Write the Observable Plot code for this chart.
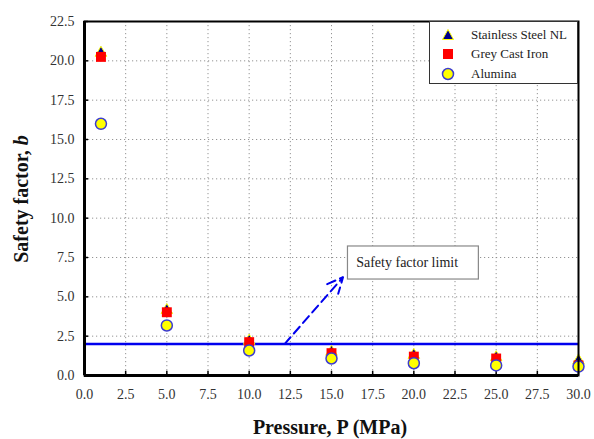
<!DOCTYPE html>
<html><head><meta charset="utf-8">
<script src="https://cdn.jsdelivr.net/npm/d3@7"></script>
<script src="https://cdn.jsdelivr.net/npm/@observablehq/plot@0.6"></script>
<style>
body{margin:0;background:#fff}
#chart{position:relative;width:594px;height:439px;font-family:"Liberation Serif","Times New Roman",Times,Tinos,"DejaVu Serif",serif}
#chart svg text{font-family:"Liberation Serif","Times New Roman",Times,Tinos,"DejaVu Serif",serif}
#legend{position:absolute;left:429px;top:21px;width:147px;height:61px;border:1.5px solid #333;background:#fff}
#legend .row{position:absolute;left:0;height:18px;display:flex;align-items:center;font-size:13px;color:#222}
#legend svg{width:24px;height:18px;margin-left:6px;margin-right:11px}
</style>
</head><body><div id="chart"><div id="legend"></div></div>
<script>
const pressure = [1, 5, 10, 15, 20, 25, 30];
const stainless = [20.5, 4.15, 2.2, 1.5, 1.3, 1.15, 0.95];
const greyIron = [20.25, 4.02, 2.12, 1.42, 1.2, 1.08, 0.64];
const alumina = [16.0, 3.18, 1.59, 1.08, 0.78, 0.64, 0.57];
const seriesNames = ["Stainless Steel NL", "Grey Cast Iron", "Alumina"];
const xTicks = [0, 2.5, 5, 7.5, 10, 12.5, 15, 17.5, 20, 22.5, 25, 27.5, 30];
const yTicks = [0, 2.5, 5, 7.5, 10, 12.5, 15, 17.5, 20, 22.5];
const limitValue = [2];
const arrowFrom = [12.15, 2.0];
const arrowTo = [15.7, 6.25];
const noteBox = [16.0, 23.95, 6.1, 8.2];
const noteText = "Safety factor limit";

const font = '"Liberation Serif", "Times New Roman", Times, Tinos, "DejaVu Serif", serif';
const rows = (ys) => pressure.map((p, i) => ({x: p, y: ys[i]}));
const blue = "#0000ee";

const plot = Plot.plot({
  width: 594, height: 439,
  marginLeft: 84, marginRight: 16, marginTop: 21, marginBottom: 64,
  style: {fontFamily: font, background: "white", overflow: "visible"},
  x: {domain: [0, 30]},
  y: {domain: [0, 22.5]},
  marks: [
    Plot.gridX(xTicks, {stroke: "#888", strokeOpacity: 0.9, strokeDasharray: "1.2,2.8"}),
    Plot.gridY(yTicks, {stroke: "#888", strokeOpacity: 0.9, strokeDasharray: "1.2,2.8"}),
    Plot.axisX(xTicks, {tickSize: 0, tickPadding: 14, tickFormat: d3.format(".1f"), fontSize: 14, fill: "#333", label: null}),
    Plot.axisY(yTicks, {tickSize: 0, tickPadding: 10, tickFormat: d3.format(".1f"), fontSize: 14, fill: "#333", label: null}),
    Plot.ruleX(xTicks, {y1: 0, y2: 0.27, stroke: "black", strokeWidth: 1.5}),
    Plot.ruleY(yTicks, {x1: 0, x2: 0.25, stroke: "black", strokeWidth: 1.5}),
    Plot.ruleY(limitValue, {stroke: blue, strokeWidth: 2.4}),
    Plot.arrow([{x1: arrowFrom[0], y1: arrowFrom[1], x2: arrowTo[0], y2: arrowTo[1]}],
      {x1: "x1", y1: "y1", x2: "x2", y2: "y2", stroke: blue, strokeWidth: 2, strokeDasharray: "9,5", headLength: 13, headAngle: 50}),
    Plot.rect([{x1: noteBox[0], x2: noteBox[1], y1: noteBox[2], y2: noteBox[3]}],
      {x1: "x1", x2: "x2", y1: "y1", y2: "y2", fill: "white", stroke: "#888", strokeWidth: 1.2}),
    Plot.text([noteText], {x: noteBox[0] + 0.5, y: (noteBox[2] + noteBox[3]) / 2, text: d => d, textAnchor: "start", fontSize: 14, fill: "#222"}),
    Plot.dot(rows(stainless), {x: "x", y: "y", symbol: "triangle", r: 4.3, fill: "#00008b", stroke: "yellow", strokeWidth: 1}),
    Plot.dot(rows(greyIron), {x: "x", y: "y", symbol: "square", r: 5.6, fill: "#ff0000", stroke: "none"}),
    Plot.dot(rows(alumina), {x: "x", y: "y", symbol: "circle", r: 5.5, fill: "yellow", stroke: "#3b3bd0", strokeWidth: 1.5}),
    Plot.frame({stroke: "black", strokeWidth: 2}),
    Plot.ruleX([0], {stroke: "black", strokeWidth: 3}),
    Plot.ruleY([0], {stroke: "black", strokeWidth: 3})
  ]
});

// axis titles
const ns = "http://www.w3.org/2000/svg";
const yt = document.createElementNS(ns, "text");
yt.setAttribute("transform", "translate(28,199) rotate(-90)");
yt.setAttribute("text-anchor", "middle");
yt.setAttribute("font-size", "20");
yt.setAttribute("font-weight", "bold");
yt.setAttribute("fill", "#111");
yt.appendChild(document.createTextNode("Safety factor, "));
const ib = document.createElementNS(ns, "tspan");
ib.setAttribute("font-style", "italic");
ib.textContent = "b";
yt.appendChild(ib);
plot.appendChild(yt);
const xt = document.createElementNS(ns, "text");
xt.setAttribute("x", "330"); xt.setAttribute("y", "434");
xt.setAttribute("text-anchor", "middle");
xt.setAttribute("font-size", "20");
xt.setAttribute("font-weight", "bold");
xt.setAttribute("fill", "#111");
xt.textContent = "Pressure, P (MPa)";
plot.appendChild(xt);

const chart = document.getElementById("chart");
chart.insertBefore(plot, chart.firstChild);

// legend
const legend = document.getElementById("legend");
const symbols = [
  '<path d="M12,3.5 L17.5,13.5 L6.5,13.5 Z" fill="#00008b" stroke="yellow" stroke-width="1"/>',
  '<rect x="7" y="4" width="10" height="10" fill="#ff0000"/>',
  '<circle cx="12" cy="9" r="5.5" fill="yellow" stroke="#3b3bd0" stroke-width="1.5"/>'
];
const tops = [4, 23, 43];
seriesNames.forEach((name, i) => {
  const row = document.createElement("div");
  row.className = "row";
  row.style.top = tops[i] + "px";
  row.innerHTML = '<svg viewBox="0 0 24 18">' + symbols[i] + '</svg><span></span>';
  row.querySelector("span").textContent = name;
  legend.appendChild(row);
});
</script>
</body></html>
